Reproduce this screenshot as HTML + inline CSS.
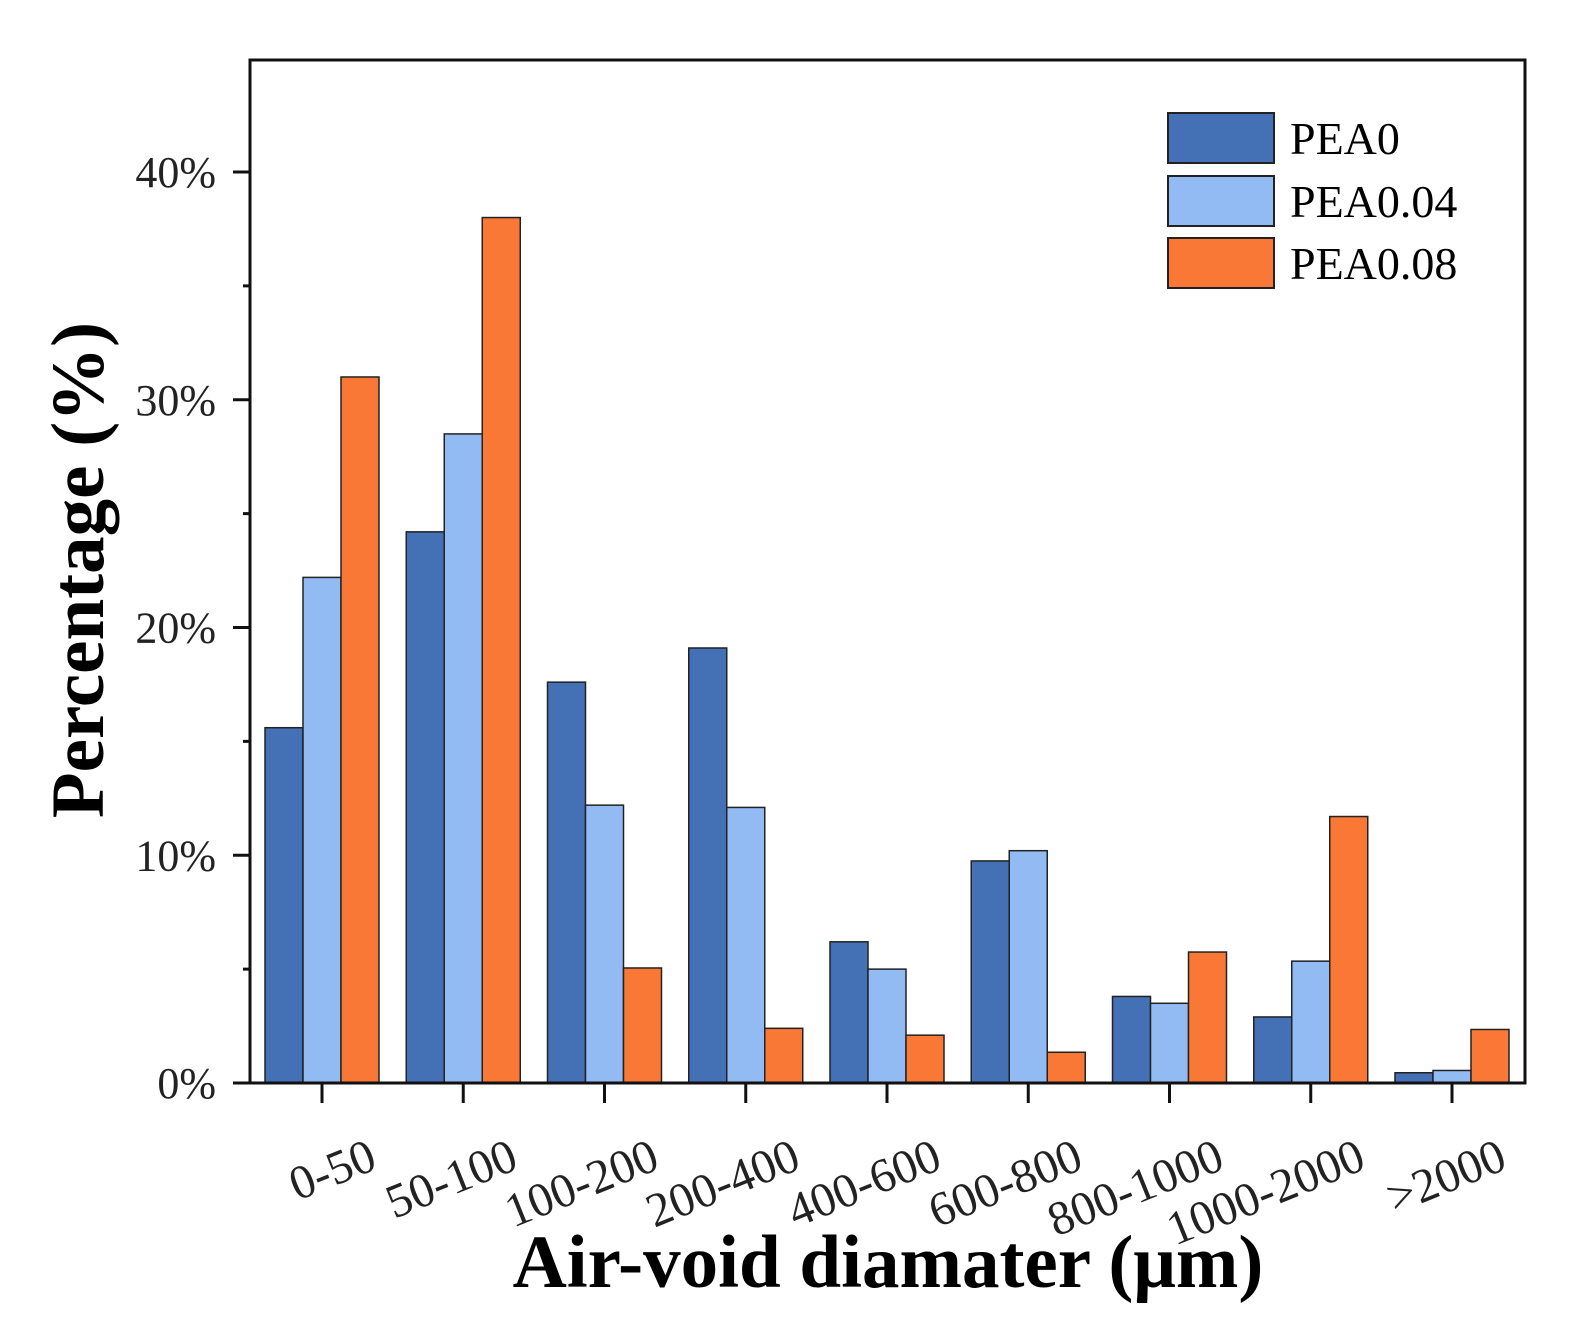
<!DOCTYPE html>
<html><head><meta charset="utf-8"><style>
html,body{margin:0;padding:0;background:#fff;}
svg{display:block;font-family:"Liberation Serif",serif;}
</style></head><body>
<svg id="chart" width="1589" height="1344" viewBox="0 0 1589 1344">
<g id="bars"></g>
<g id="axes"></g>
<text x="0" y="0" transform="translate(103,570) rotate(-90)" text-anchor="middle" font-size="75" font-weight="bold">Percentage (%)</text>
<text x="888" y="1287" text-anchor="middle" font-size="75" font-weight="bold">Air-void diamater (μm)</text>
<g>
<rect x="1168" y="113" width="106" height="50" fill="#4470b5" stroke="#222" stroke-width="2"/>
<text x="1290" y="154" font-size="46">PEA0</text>
<rect x="1168" y="176" width="106" height="50" fill="#93bbf3" stroke="#222" stroke-width="2"/>
<text x="1290" y="217" font-size="46">PEA0.04</text>
<rect x="1168" y="238" width="106" height="50" fill="#f97835" stroke="#222" stroke-width="2"/>
<text x="1290" y="279" font-size="46">PEA0.08</text>
</g>
</svg>
<script>
const categories=["0-50","50-100","100-200","200-400","400-600","600-800","800-1000","1000-2000",">2000"];
const pea0=[15.6,24.2,17.6,19.1,6.2,9.75,3.8,2.9,0.45];
const pea004=[22.2,28.5,12.2,12.1,5.0,10.2,3.5,5.35,0.55];
const pea008=[31.0,38.0,5.05,2.4,2.1,1.35,5.75,11.7,2.35];
const yTicks=[0,10,20,30,40];
const yTickLabels=["0%","10%","20%","30%","40%"];

const NS="http://www.w3.org/2000/svg";
const y=v=>1083-v*22.775;
const xc=i=>322+i*141.25;
const BW=38;
function mk(tag,attrs,parent){const e=document.createElementNS(NS,tag);for(const k in attrs)e.setAttribute(k,attrs[k]);parent.appendChild(e);return e;}
const bars=document.getElementById('bars'),axes=document.getElementById('axes');
const series=[[pea0,"#4470b5","pea0"],[pea004,"#93bbf3","pea004"],[pea008,"#f97835","pea008"]];
series.forEach((s,si)=>{
  s[0].forEach((v,i)=>{
    const r=mk('rect',{x:xc(i)-57+si*BW,y:y(v),width:BW,height:y(0)-y(v),fill:s[1],stroke:"#222","stroke-width":1.5},bars);
    
    
  });
});
mk('rect',{x:250,y:60,width:1275,height:1023,fill:"none",stroke:"#111","stroke-width":3},axes);
mk('line',{x1:233,y1:1083,x2:1525,y2:1083,stroke:"#111","stroke-width":3},axes);
yTicks.forEach((t,i)=>{
  mk('line',{x1:233,y1:y(t),x2:250,y2:y(t),stroke:"#111","stroke-width":3},axes);
  const tx=mk('text',{x:216,y:y(t)+15,"text-anchor":"end","font-size":44,fill:"#222"},axes);
  tx.textContent=yTickLabels[i];
  
  
  if(i<yTicks.length-1) mk('line',{x1:243,y1:y(t+5),x2:250,y2:y(t+5),stroke:"#111","stroke-width":3},axes);
});
categories.forEach((c,i)=>{
  mk('line',{x1:xc(i),y1:1083,x2:xc(i),y2:1103,stroke:"#111","stroke-width":3},axes);
  const tx=mk('text',{x:0,y:0,"text-anchor":"end","font-size":48,fill:"#222",transform:`translate(${xc(i)+57},${1168}) rotate(-22)`},axes);
  tx.textContent=c;
  
  
});
</script>
</body></html>
